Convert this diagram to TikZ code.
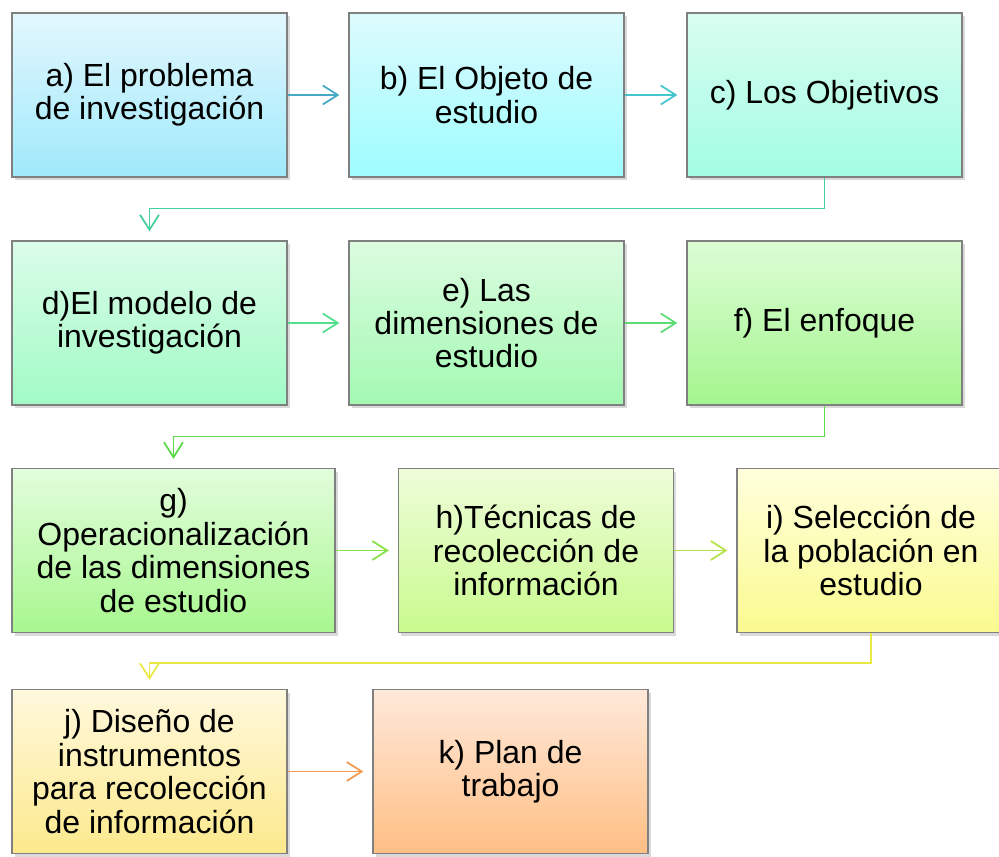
\documentclass[tikz,border=0pt]{standalone}
\usepackage{fontspec}
\setmainfont{Liberation Sans}
\usepackage{tikz}
\usetikzlibrary{arrows.meta}
\usetikzlibrary{shadows}

\definecolor{aTop}{HTML}{E3F7FD}\definecolor{aBot}{HTML}{9FE9FB}
\definecolor{bTop}{HTML}{DDFBFD}\definecolor{bBot}{HTML}{9EFCFF}
\definecolor{cTop}{HTML}{D9FDF0}\definecolor{cBot}{HTML}{A2FDE3}
\definecolor{dTop}{HTML}{DBFCE9}\definecolor{dBot}{HTML}{A1FBC6}
\definecolor{eTop}{HTML}{DCFCE0}\definecolor{eBot}{HTML}{A3F9B3}
\definecolor{fTop}{HTML}{DCFDD5}\definecolor{fBot}{HTML}{A4F58E}
\definecolor{gTop}{HTML}{E2FDDC}\definecolor{gBot}{HTML}{A8F78F}
\definecolor{hTop}{HTML}{EEFDD9}\definecolor{hBot}{HTML}{C9FA8E}
\definecolor{iTop}{HTML}{FFFFDC}\definecolor{iBot}{HTML}{FAFA90}
\definecolor{jTop}{HTML}{FFF8DC}\definecolor{jBot}{HTML}{FCE98C}
\definecolor{kTop}{HTML}{FFE9DA}\definecolor{kBot}{HTML}{FFBF85}

\definecolor{ab}{HTML}{45A9C5}
\definecolor{bc}{HTML}{45C6CC}
\definecolor{cd}{HTML}{45CF9A}
\definecolor{de}{HTML}{52DF8E}
\definecolor{ef}{HTML}{5EDC74}
\definecolor{fg}{HTML}{5ADA47}
\definecolor{gh}{HTML}{88E246}
\definecolor{hi}{HTML}{B6E248}
\definecolor{ij}{HTML}{E8E846}
\definecolor{jk}{HTML}{F29A50}

\begin{document}
\begin{tikzpicture}[
        box/.style={shape=rectangle, draw=black!50, line width=0.7pt, minimum width=5.5cm, minimum height=3.28cm,
            align=center, font=\fontsize{18.2}{19}\selectfont,
            drop shadow={shadow xshift=0.05cm, shadow yshift=-0.07cm, opacity=0.3}},
        link/.style={-{Straight Barb[length=0.3cm,width=0.38cm]}, line width=1pt, shorten >=0.18cm}
    ]
        \useasboundingbox (0,0) rectangle (19.98,17.12);

        % first row
        \node (a) at (2.99,15.22) [box, top color=aTop, bottom color=aBot] {a) El problema\\de investigación};
        \node (b) at (9.73,15.22) [box, top color=bTop, bottom color=bBot] {b) El Objeto de\\estudio};
        \node (c) at (16.49,15.22) [box, top color=cTop, bottom color=cBot] {c) Los Objetivos};

        % second row
        \node (d) at (2.99,10.66) [box, top color=dTop, bottom color=dBot] {d)El modelo de\\investigación};
        \node (e) at (9.73,10.66) [box, top color=eTop, bottom color=eBot] {e) Las\\dimensiones de\\estudio};
        \node (f) at (16.49,10.66) [box, top color=fTop, bottom color=fBot] {f) El enfoque};

        % third row
        \node (g) at (3.47,6.11) [box, minimum width=6.46cm, top color=gTop, bottom color=gBot] {g)\\Operacionalización\\de las dimensiones\\de estudio};
        \node (h) at (10.72,6.11) [box, top color=hTop, bottom color=hBot] {h)Técnicas de\\recolección de\\información};
        \node (i) at (17.42,6.11) [box, minimum width=5.36cm, top color=iTop, bottom color=iBot] {i) Selección de\\la población en\\estudio};

        % last row
        \node (j) at (2.99,1.69) [box, top color=jTop, bottom color=jBot] {j) Diseño de\\instrumentos\\para recolección\\de información};
        \node (k) at (10.21,1.69) [box, top color=kTop, bottom color=kBot] {k) Plan de\\trabajo};

        \draw[link, ab] (a) -- (b);
        \draw[link, bc] (b) -- (c);
        \draw[link, cd] (c.south) -- ++(0,-0.62) -| (d.north);
        \draw[link, de] (d) -- (e);
        \draw[link, ef] (e) -- (f);
        \draw[link, fg] (f.south) -- ++(0,-0.62) -| (g.north);
        \draw[link, gh] (g) -- (h);
        \draw[link, hi] (h) -- (i);
        \draw[link, ij] (i.south) -- ++(0,-0.6) -| (j.north);
        \draw[link, jk] (j) -- (k);
    \end{tikzpicture}
\end{document}
